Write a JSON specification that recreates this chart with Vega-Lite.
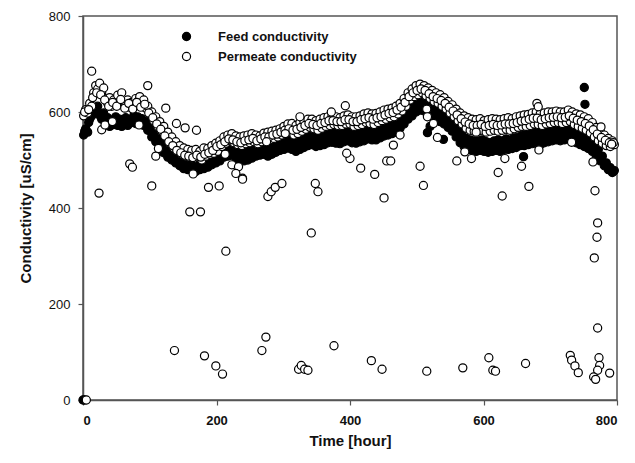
{
  "$schema": "https://vega.github.io/schema/vega-lite/v6.json",
  "width": 534,
  "height": 384,
  "autosize": {"type": "none"},
  "padding": {"left": 83, "top": 16, "right": 18, "bottom": 63},
  "background": "white",
  "config": {
    "view": {"stroke": "#555555", "strokeWidth": 1.5},
    "font": "Liberation Sans",
    "axis": {
      "grid": false,
      "domainColor": "#555555",
      "domainWidth": 1.5,
      "tickColor": "#555555",
      "tickWidth": 1.2,
      "tickSize": 5,
      "labelColor": "#111111",
      "titleColor": "#111111",
      "labelFont": "Liberation Sans",
      "titleFont": "Liberation Sans",
      "labelFontSize": 13,
      "titleFontSize": 15,
      "titleFontWeight": "bold"
    }
  },
  "data": {
    "values": [
      {"t":0,"f":0},{"t":2,"f":0},{"t":5,"p":0},
      {"t":1,"f":552,"p":592},{"t":4,"f":565,"p":605},{"t":7,"f":558,"p":598},{"t":10,"f":585,"p":618},{"t":13,"f":592,"p":612},
      {"t":16,"f":605,"p":640},{"t":19,"f":598,"p":655},{"t":22,"f":612,"p":648},{"t":25,"f":595,"p":660},{"t":28,"f":585,"p":640},
      {"t":31,"f":598,"p":650},{"t":34,"f":575,"p":628},{"t":37,"f":588,"p":618},{"t":40,"f":570,"p":630},{"t":43,"f":582,"p":612},
      {"t":46,"f":574,"p":625},{"t":49,"f":590,"p":615},{"t":52,"f":572,"p":635},{"t":55,"f":585,"p":622},{"t":58,"f":570,"p":640},
      {"t":61,"f":580,"p":620},{"t":64,"f":588,"p":615},{"t":67,"f":572,"p":625},{"t":70,"f":584,"p":610},{"t":73,"f":578,"p":620},
      {"t":76,"f":592,"p":612},{"t":79,"f":576,"p":628},{"t":82,"f":590,"p":622},{"t":85,"f":580,"p":632},{"t":88,"f":586,"p":618},
      {"t":91,"f":572,"p":625},{"t":94,"f":580,"p":608},{"t":97,"f":562,"p":612},{"t":100,"f":570,"p":596},{"t":103,"f":548,"p":600},
      {"t":106,"f":558,"p":582},{"t":109,"f":538,"p":590},{"t":112,"f":548,"p":570},{"t":115,"f":526,"p":580},{"t":118,"f":535,"p":560},
      {"t":121,"f":515,"p":570},{"t":124,"f":528,"p":548},{"t":127,"f":506,"p":558},{"t":130,"f":518,"p":535},{"t":133,"f":500,"p":548},
      {"t":136,"f":510,"p":525},{"t":139,"f":494,"p":538},{"t":142,"f":505,"p":518},{"t":145,"f":488,"p":530},{"t":148,"f":500,"p":512},
      {"t":151,"f":482,"p":525},{"t":154,"f":496,"p":508},{"t":157,"f":480,"p":522},{"t":160,"f":494,"p":505},{"t":163,"f":478,"p":520},
      {"t":166,"f":492,"p":503},{"t":169,"f":476,"p":522},{"t":172,"f":495,"p":506},{"t":175,"f":480,"p":518},{"t":178,"f":496,"p":500},
      {"t":181,"f":482,"p":525},{"t":184,"f":500,"p":508},{"t":187,"f":485,"p":524},{"t":190,"f":504,"p":512},{"t":193,"f":490,"p":530},
      {"t":196,"f":506,"p":514},{"t":199,"f":494,"p":535},{"t":202,"f":510,"p":518},{"t":205,"f":498,"p":540},{"t":208,"f":518,"p":528},
      {"t":211,"f":506,"p":548},{"t":214,"f":525,"p":535},{"t":217,"f":508,"p":552},{"t":220,"f":528,"p":540},{"t":223,"f":510,"p":555},
      {"t":226,"f":524,"p":536},{"t":229,"f":504,"p":550},{"t":232,"f":520,"p":532},{"t":235,"f":500,"p":548},{"t":238,"f":518,"p":530},
      {"t":241,"f":498,"p":550},{"t":244,"f":515,"p":534},{"t":247,"f":500,"p":552},{"t":250,"f":520,"p":536},{"t":253,"f":504,"p":555},
      {"t":256,"f":524,"p":538},{"t":259,"f":508,"p":552},{"t":262,"f":528,"p":534},{"t":265,"f":510,"p":550},{"t":268,"f":530,"p":538},
      {"t":271,"f":512,"p":556},{"t":274,"f":526,"p":540},{"t":277,"f":508,"p":558},{"t":280,"f":528,"p":542},{"t":283,"f":512,"p":560},
      {"t":286,"f":534,"p":545},{"t":289,"f":516,"p":562},{"t":292,"f":538,"p":548},{"t":295,"f":520,"p":565},{"t":298,"f":540,"p":552},
      {"t":301,"f":522,"p":570},{"t":304,"f":544,"p":555},{"t":307,"f":525,"p":575},{"t":310,"f":545,"p":558},{"t":313,"f":522,"p":576},
      {"t":316,"f":540,"p":552},{"t":319,"f":518,"p":572},{"t":322,"f":538,"p":555},{"t":325,"f":522,"p":578},{"t":328,"f":544,"p":560},
      {"t":331,"f":526,"p":580},{"t":334,"f":548,"p":564},{"t":337,"f":530,"p":585},{"t":340,"f":550,"p":568},{"t":343,"f":532,"p":585},
      {"t":346,"f":548,"p":565},{"t":349,"f":528,"p":582},{"t":352,"f":546,"p":562},{"t":355,"f":530,"p":585},{"t":358,"f":548,"p":566},
      {"t":361,"f":532,"p":588},{"t":364,"f":552,"p":570},{"t":367,"f":536,"p":590},{"t":370,"f":555,"p":572},{"t":373,"f":537,"p":592},
      {"t":376,"f":556,"p":574},{"t":379,"f":535,"p":590},{"t":382,"f":554,"p":572},{"t":385,"f":534,"p":588},{"t":388,"f":555,"p":572},
      {"t":391,"f":538,"p":592},{"t":394,"f":558,"p":575},{"t":397,"f":540,"p":594},{"t":400,"f":558,"p":575},{"t":403,"f":536,"p":590},
      {"t":406,"f":555,"p":570},{"t":409,"f":535,"p":590},{"t":412,"f":556,"p":572},{"t":415,"f":538,"p":592},{"t":418,"f":560,"p":574},
      {"t":421,"f":540,"p":596},{"t":424,"f":562,"p":578},{"t":427,"f":544,"p":598},{"t":430,"f":562,"p":576},{"t":433,"f":542,"p":596},
      {"t":436,"f":560,"p":574},{"t":439,"f":542,"p":597},{"t":442,"f":565,"p":578},{"t":445,"f":546,"p":600},{"t":448,"f":568,"p":582},
      {"t":451,"f":550,"p":604},{"t":454,"f":572,"p":585},{"t":457,"f":552,"p":606},{"t":460,"f":574,"p":588},{"t":463,"f":555,"p":608},
      {"t":466,"f":578,"p":590},{"t":469,"f":558,"p":612},{"t":472,"f":584,"p":596},{"t":475,"f":566,"p":618},{"t":478,"f":592,"p":602},
      {"t":481,"f":575,"p":628},{"t":484,"f":602,"p":612},{"t":487,"f":585,"p":640},{"t":490,"f":610,"p":625},{"t":493,"f":592,"p":648},
      {"t":496,"f":618,"p":632},{"t":499,"f":600,"p":655},{"t":502,"f":625,"p":636},{"t":505,"f":604,"p":658},{"t":508,"f":628,"p":640},
      {"t":511,"f":602,"p":655},{"t":514,"f":622,"p":634},{"t":517,"f":596,"p":650},{"t":520,"f":615,"p":628},{"t":523,"f":590,"p":645},
      {"t":526,"f":608,"p":622},{"t":529,"f":584,"p":640},{"t":532,"f":602,"p":618},{"t":535,"f":580,"p":636},{"t":538,"f":596,"p":612},
      {"t":541,"f":575,"p":630},{"t":544,"f":590,"p":606},{"t":547,"f":568,"p":622},{"t":550,"f":582,"p":598},{"t":553,"f":560,"p":615},
      {"t":556,"f":572,"p":590},{"t":559,"f":548,"p":606},{"t":562,"f":562,"p":582},{"t":565,"f":536,"p":598},{"t":568,"f":552,"p":575},
      {"t":571,"f":528,"p":592},{"t":574,"f":545,"p":566},{"t":577,"f":522,"p":588},{"t":580,"f":542,"p":562},{"t":583,"f":520,"p":585},
      {"t":586,"f":540,"p":560},{"t":589,"f":518,"p":584},{"t":592,"f":540,"p":560},{"t":595,"f":520,"p":586},{"t":598,"f":542,"p":562},
      {"t":601,"f":518,"p":582},{"t":604,"f":538,"p":558},{"t":607,"f":516,"p":584},{"t":610,"f":536,"p":560},{"t":613,"f":518,"p":586},
      {"t":616,"f":540,"p":562},{"t":619,"f":520,"p":585},{"t":622,"f":542,"p":560},{"t":625,"f":518,"p":584},{"t":628,"f":540,"p":562},
      {"t":631,"f":522,"p":586},{"t":634,"f":544,"p":564},{"t":637,"f":522,"p":588},{"t":640,"f":542,"p":562},{"t":643,"f":524,"p":586},
      {"t":646,"f":546,"p":565},{"t":649,"f":526,"p":590},{"t":652,"f":548,"p":568},{"t":655,"f":530,"p":592},{"t":658,"f":552,"p":570},
      {"t":661,"f":530,"p":594},{"t":664,"f":554,"p":570},{"t":667,"f":532,"p":595},{"t":670,"f":556,"p":572},{"t":673,"f":534,"p":598},
      {"t":676,"f":558,"p":575},{"t":679,"f":535,"p":600},{"t":682,"f":556,"p":574},{"t":685,"f":532,"p":596},{"t":688,"f":556,"p":572},
      {"t":691,"f":536,"p":598},{"t":694,"f":560,"p":575},{"t":697,"f":538,"p":600},{"t":700,"f":562,"p":576},{"t":703,"f":540,"p":600},
      {"t":706,"f":564,"p":578},{"t":709,"f":542,"p":602},{"t":712,"f":565,"p":578},{"t":715,"f":540,"p":600},{"t":718,"f":564,"p":576},
      {"t":721,"f":542,"p":600},{"t":724,"f":566,"p":578},{"t":727,"f":544,"p":604},{"t":730,"f":566,"p":580},{"t":733,"f":540,"p":600},
      {"t":736,"f":562,"p":574},{"t":739,"f":536,"p":596},{"t":742,"f":558,"p":570},{"t":745,"f":532,"p":594},{"t":748,"f":554,"p":566},
      {"t":751,"f":528,"p":590},{"t":754,"f":550,"p":562},{"t":757,"f":524,"p":586},{"t":760,"f":545,"p":556},{"t":763,"f":518,"p":578},
      {"t":766,"f":535,"p":548},{"t":769,"f":508,"p":568},{"t":772,"f":522,"p":540},{"t":775,"f":498,"p":560},{"t":778,"f":508,"p":535},
      {"t":781,"f":488,"p":552},{"t":784,"f":494,"p":530},{"t":787,"f":480,"p":545},{"t":790,"f":484,"p":528},{"t":793,"f":474,"p":540},
      {"t":796,"f":478,"p":532},
      {"t":2.5,"f":560,"p":600},{"t":8.5,"f":578,"p":605},{"t":14.5,"f":600,"p":630},{"t":20.5,"f":600,"p":640},{"t":26.5,"f":590,"p":636},
      {"t":32.5,"f":582,"p":625},{"t":38.5,"f":578,"p":612},{"t":44.5,"f":576,"p":620},{"t":50.5,"f":582,"p":612},{"t":56.5,"f":575,"p":626},
      {"t":62.5,"f":585,"p":608},{"t":68.5,"f":578,"p":618},{"t":74.5,"f":586,"p":606},{"t":80.5,"f":582,"p":620},{"t":86.5,"f":586,"p":610},
      {"t":92.5,"f":576,"p":616},{"t":98.5,"f":566,"p":598},{"t":104.5,"f":552,"p":588},{"t":110.5,"f":540,"p":575},{"t":116.5,"f":530,"p":564},
      {"t":122.5,"f":520,"p":550},{"t":128.5,"f":512,"p":538},{"t":134.5,"f":505,"p":530},{"t":140.5,"f":500,"p":520},{"t":146.5,"f":494,"p":515},
      {"t":152.5,"f":490,"p":510},{"t":158.5,"f":486,"p":508},{"t":164.5,"f":484,"p":505},{"t":170.5,"f":486,"p":510},{"t":176.5,"f":488,"p":506},
      {"t":182.5,"f":492,"p":512},{"t":188.5,"f":495,"p":515},{"t":194.5,"f":498,"p":520},{"t":200.5,"f":503,"p":528},{"t":206.5,"f":508,"p":532},
      {"t":212.5,"f":516,"p":538},{"t":218.5,"f":518,"p":544},{"t":224.5,"f":517,"p":542},{"t":230.5,"f":512,"p":538},{"t":236.5,"f":508,"p":536},
      {"t":242.5,"f":507,"p":540},{"t":248.5,"f":510,"p":542},{"t":254.5,"f":514,"p":545},{"t":260.5,"f":518,"p":540},{"t":266.5,"f":520,"p":544},
      {"t":272.5,"f":518,"p":548},{"t":278.5,"f":518,"p":548},{"t":284.5,"f":522,"p":552},{"t":290.5,"f":527,"p":554},{"t":296.5,"f":530,"p":558},
      {"t":302.5,"f":533,"p":562},{"t":308.5,"f":535,"p":565},{"t":314.5,"f":532,"p":562},{"t":320.5,"f":528,"p":564},{"t":326.5,"f":533,"p":568},
      {"t":332.5,"f":536,"p":572},{"t":338.5,"f":540,"p":576},{"t":344.5,"f":540,"p":574},{"t":350.5,"f":537,"p":572},{"t":356.5,"f":539,"p":576},
      {"t":362.5,"f":542,"p":578},{"t":368.5,"f":545,"p":582},{"t":374.5,"f":546,"p":582},{"t":380.5,"f":545,"p":580},{"t":386.5,"f":545,"p":580},
      {"t":392.5,"f":548,"p":584},{"t":398.5,"f":549,"p":584},{"t":404.5,"f":545,"p":580},{"t":410.5,"f":546,"p":580},{"t":416.5,"f":548,"p":584},
      {"t":422.5,"f":551,"p":586},{"t":428.5,"f":553,"p":588},{"t":434.5,"f":551,"p":585},{"t":440.5,"f":553,"p":588},{"t":446.5,"f":557,"p":590},
      {"t":452.5,"f":561,"p":594},{"t":458.5,"f":563,"p":597},{"t":464.5,"f":566,"p":599},{"t":470.5,"f":571,"p":604},{"t":476.5,"f":579,"p":610},
      {"t":482.5,"f":588,"p":620},{"t":488.5,"f":597,"p":632},{"t":494.5,"f":605,"p":640},{"t":500.5,"f":612,"p":645},{"t":506.5,"f":616,"p":648},
      {"t":512.5,"f":612,"p":645},{"t":518.5,"f":605,"p":638},{"t":524.5,"f":599,"p":632},{"t":530.5,"f":593,"p":628},{"t":536.5,"f":588,"p":624},
      {"t":542.5,"f":582,"p":618},{"t":548.5,"f":575,"p":610},{"t":554.5,"f":566,"p":602},{"t":560.5,"f":555,"p":594},{"t":566.5,"f":544,"p":586},
      {"t":572.5,"f":536,"p":579},{"t":578.5,"f":532,"p":575},{"t":584.5,"f":530,"p":572},{"t":590.5,"f":529,"p":572},{"t":596.5,"f":531,"p":574},
      {"t":602.5,"f":528,"p":570},{"t":608.5,"f":526,"p":572},{"t":614.5,"f":529,"p":574},{"t":620.5,"f":531,"p":572},{"t":626.5,"f":529,"p":573},
      {"t":632.5,"f":533,"p":575},{"t":638.5,"f":532,"p":575},{"t":644.5,"f":535,"p":576},{"t":650.5,"f":537,"p":578},{"t":656.5,"f":541,"p":581},
      {"t":662.5,"f":542,"p":582},{"t":668.5,"f":545,"p":585},{"t":674.5,"f":546,"p":587},{"t":680.5,"f":545,"p":587},{"t":686.5,"f":544,"p":584},
      {"t":692.5,"f":548,"p":586},{"t":698.5,"f":550,"p":588},{"t":704.5,"f":552,"p":589},{"t":710.5,"f":553,"p":590},{"t":716.5,"f":552,"p":588},
      {"t":722.5,"f":554,"p":589},{"t":728.5,"f":555,"p":592},{"t":734.5,"f":551,"p":587},{"t":740.5,"f":547,"p":583},{"t":746.5,"f":543,"p":580},
      {"t":752.5,"f":539,"p":576},{"t":758.5,"f":534,"p":571},{"t":764.5,"f":526,"p":563},{"t":770.5,"f":515,"p":554},{"t":776.5,"f":503,"p":547},
      {"t":782.5,"f":491,"p":541},{"t":788.5,"f":482,"p":536},{"t":794.5,"f":476,"p":536},
      {"t":751,"f":651},{"t":752,"f":616},{"t":516,"f":557},{"t":520,"f":570},{"t":540,"f":543},{"t":660,"f":507},
      {"t":13,"p":685},{"t":97,"p":655},{"t":124,"p":608},{"t":140,"p":576},{"t":153,"p":567},{"t":170,"p":562},
      {"t":28,"p":563},{"t":33,"p":573},{"t":44,"p":580},{"t":84,"p":573},{"t":109,"p":508},{"t":113,"p":524},
      {"t":70,"p":492},{"t":74,"p":485},{"t":165,"p":471},
      {"t":213,"p":512},{"t":325,"p":590},{"t":372,"p":600},{"t":393,"p":613},{"t":275,"p":538},{"t":303,"p":555},
      {"t":400,"p":503},{"t":395,"p":514},{"t":223,"p":490},{"t":233,"p":486},{"t":229,"p":472},{"t":239,"p":462},
      {"t":515,"p":606},{"t":516,"p":590},{"t":525,"p":576},{"t":531,"p":547},{"t":589,"p":558},{"t":475,"p":552},
      {"t":465,"p":531},{"t":416,"p":483},{"t":437,"p":470},{"t":455,"p":498},{"t":461,"p":498},{"t":505,"p":487},
      {"t":560,"p":498},{"t":572,"p":517},{"t":582,"p":503},
      {"t":680,"p":618},{"t":682,"p":611},{"t":632,"p":503},{"t":622,"p":474},{"t":657,"p":487},{"t":683,"p":521},
      {"t":732,"p":537},{"t":764,"p":496},{"t":776,"p":569},{"t":792,"p":533},
      {"t":24,"p":431},{"t":103,"p":446},{"t":160,"p":392},{"t":176,"p":392},{"t":188,"p":443},{"t":204,"p":446},
      {"t":214,"p":310},{"t":239,"p":460},{"t":277,"p":424},{"t":282,"p":434},{"t":288,"p":443},{"t":298,"p":451},
      {"t":342,"p":348},{"t":348,"p":451},{"t":352,"p":434},{"t":451,"p":421},{"t":510,"p":447},{"t":628,"p":425},
      {"t":668,"p":445},{"t":767,"p":436},{"t":771,"p":369},{"t":770,"p":339},{"t":766,"p":296},
      {"t":137,"p":103},{"t":182,"p":92},{"t":199,"p":71},{"t":209,"p":54},{"t":268,"p":103},{"t":274,"p":131},
      {"t":323,"p":64},{"t":327,"p":72},{"t":332,"p":64},{"t":337,"p":62},{"t":376,"p":113},{"t":432,"p":82},
      {"t":448,"p":64},{"t":515,"p":60},{"t":569,"p":67},{"t":608,"p":88},{"t":614,"p":62},{"t":618,"p":60},
      {"t":663,"p":76},{"t":730,"p":93},{"t":732,"p":83},{"t":737,"p":71},{"t":742,"p":57},{"t":771,"p":150},
      {"t":773,"p":88},{"t":774,"p":72},{"t":771,"p":62},{"t":765,"p":48},{"t":768,"p":43},{"t":789,"p":56}
    ]
  },
  "layer": [
    {
      "transform": [{"filter": "isValid(datum.f)"}],
      "mark": {"type": "point", "shape": "circle", "filled": true, "size": 66, "stroke": "black", "strokeWidth": 1.2, "opacity": 1},
      "encoding": {
        "x": {"field": "t", "type": "quantitative", "scale": {"domain": [0, 800], "nice": false},
          "axis": {"values": [0, 200, 400, 600, 800], "labelFontWeight": "bold", "labelPadding": 9, "title": "Time [hour]", "titleY": 40, "titleBaseline": "middle"}},
        "y": {"field": "f", "type": "quantitative", "scale": {"domain": [0, 800], "nice": false},
          "axis": {"values": [0, 200, 400, 600, 800], "labelPadding": 8, "title": "Conductivity [uS/cm]", "titleX": -58, "titleBaseline": "middle"}},
        "fill": {"datum": "Feed conductivity", "type": "nominal",
          "scale": {"domain": ["Feed conductivity", "Permeate conductivity"], "range": ["black", "white"]},
          "legend": {"orient": "none", "legendX": 97, "legendY": 14, "title": null, "symbolType": "circle", "symbolSize": 66,
            "symbolStrokeColor": "black", "symbolStrokeWidth": 1.2, "labelFont": "Liberation Sans", "labelFontSize": 13,
            "labelFontWeight": "bold", "labelColor": "#111111", "labelOffset": 25, "rowPadding": 6, "padding": 0}}
      }
    },
    {
      "transform": [{"filter": "isValid(datum.p)"}],
      "mark": {"type": "point", "shape": "circle", "filled": true, "size": 66, "stroke": "black", "strokeWidth": 1.2, "opacity": 1},
      "encoding": {
        "x": {"field": "t", "type": "quantitative"},
        "y": {"field": "p", "type": "quantitative", "title": "Conductivity [uS/cm]"},
        "fill": {"datum": "Permeate conductivity", "type": "nominal"}
      }
    }
  ]
}
